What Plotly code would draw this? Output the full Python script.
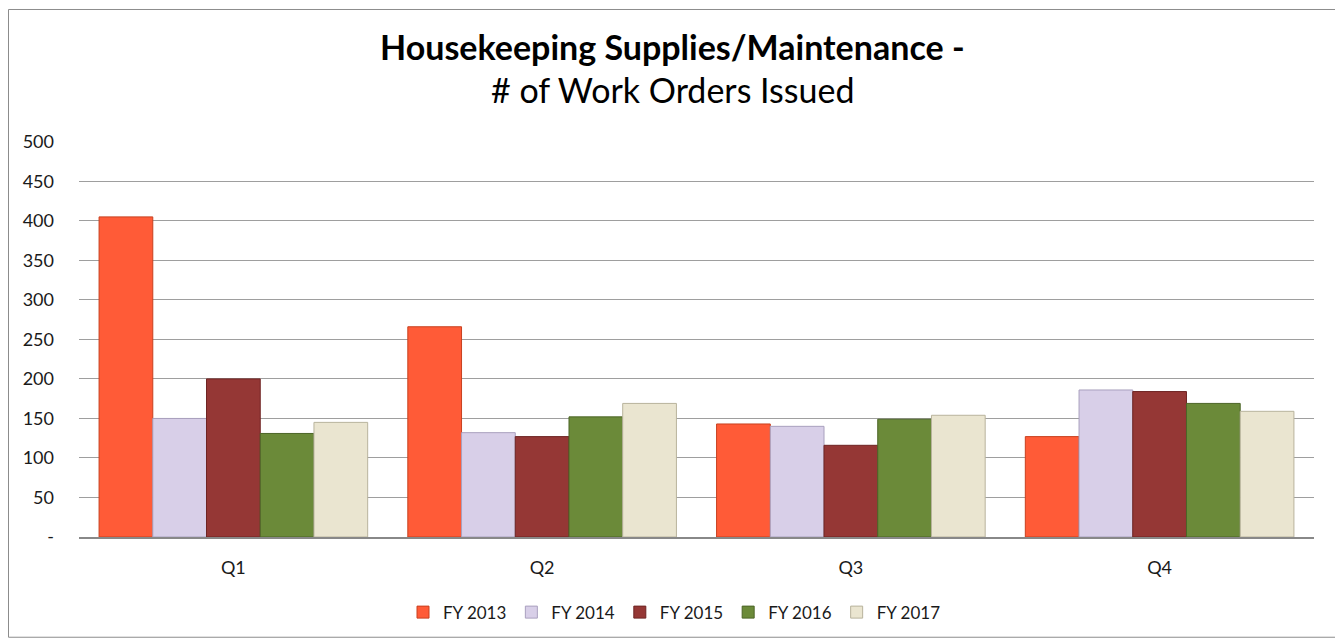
import plotly.graph_objects as go

quarters = ['Q1', 'Q2', 'Q3', 'Q4']
series_names = ['FY 2013', 'FY 2014', 'FY 2015', 'FY 2016', 'FY 2017']
fy2013 = [405, 266, 143, 127]
fy2014 = [150, 132, 140, 186]
fy2015 = [200, 127, 116, 184]
fy2016 = [131, 152, 149, 169]
fy2017 = [145, 169, 154, 159]
y_ticks = [0, 50, 100, 150, 200, 250, 300, 350, 400, 450, 500]
y_tick_labels = ['-', '50', '100', '150', '200', '250', '300', '350', '400', '450', '500']

colors = ['#FF5B37', '#D8CFE8', '#953735', '#6B8A39', '#EAE5D0']
edges = ['#C8401F', '#A9A0BE', '#6E2423', '#4C6527', '#B8B39C']

# page has an 8px body margin, so the figure is drawn a bit smaller
W, H = 1335, 635
L, R, T, B = 71, 29, 133, 103
pw = W - L - R
ph = H - T - B


def py(fig_y):
    # figure pixel row -> paper y
    return 1 + (T - fig_y) / ph


fig = go.Figure()
for name, vals, c, e in zip(series_names, [fy2013, fy2014, fy2015, fy2016, fy2017], colors, edges):
    fig.add_trace(go.Bar(
        name=name,
        x=quarters,
        y=vals,
        marker=dict(color=c, line=dict(color=e, width=1)),
        hovertemplate='<b>%{x}</b><br>' + name + ': %{y}<extra></extra>'
    ))

fig.add_shape(type='rect', xref='paper', yref='paper',
              x0=-(L - 0.5) / pw, x1=1 + (R - 2) / pw,
              y0=py(H - 2), y1=py(0.5),
              line=dict(color='#8c8c8c', width=1), layer='below')

# two-line title, stacked around a common boundary so the boxes don't overlap
title_x = (664 - L) / pw
fig.add_annotation(text='<b>Housekeeping Supplies/Maintenance -</b>',
                   xref='paper', yref='paper', x=title_x, y=py(59),
                   xanchor='center', yanchor='bottom', showarrow=False, borderpad=0,
                   font=dict(size=34, color='#000000'))
fig.add_annotation(text='# of Work Orders Issued',
                   xref='paper', yref='paper', x=title_x, y=py(59),
                   xanchor='center', yanchor='top', showarrow=False, borderpad=0,
                   font=dict(size=34, color='#000000'))

fig.update_layout(
    width=W, height=H,
    margin=dict(l=L, r=R, t=T, b=B),
    paper_bgcolor='white', plot_bgcolor='white',
    font=dict(family='Lato, Noto Sans, sans-serif', size=17, color='#1a1a1a'),
    barmode='group',
    bargap=0.13,
    bargroupgap=0,
    legend=dict(orientation='h', x=0.5 - 22 / pw, xanchor='center', y=py(590), yanchor='top',
                xref='paper', font=dict(size=17), itemwidth=30, traceorder='normal'),
    xaxis=dict(showgrid=False, showline=True, linecolor='#888888', linewidth=1.5,
               ticks='', ticklabelstandoff=14, tickfont=dict(size=18)),
    yaxis=dict(range=[0, 501], tickvals=y_ticks, ticktext=y_tick_labels,
               showgrid=True, gridcolor='#9e9e9e', gridwidth=1, zeroline=False,
               showline=False, ticks='', ticklabelstandoff=24, tickfont=dict(size=18)),
)

fig.write_html("out.html")
